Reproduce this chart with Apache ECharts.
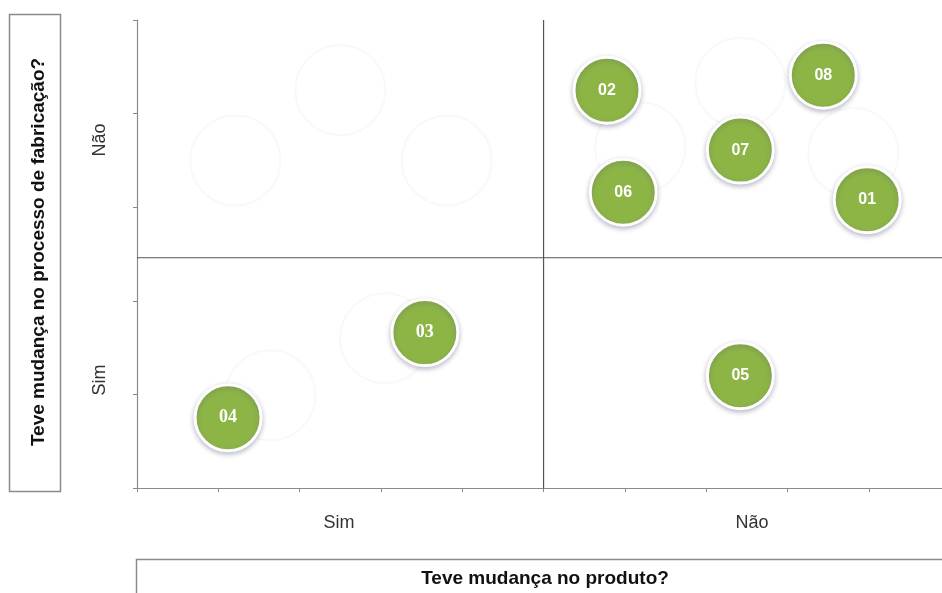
<!DOCTYPE html>
<html>
<head>
<meta charset="utf-8">
<script src="https://cdn.jsdelivr.net/npm/echarts@6/dist/echarts.min.js"></script>
<style>
  html, body { margin: 0; padding: 0; background: #fff; }
  #chart { width: 942px; height: 593px; }
</style>
</head>
<body>
<div id="chart"></div>
<script>
// ---- data ----
const itemNames = ["01", "02", "03", "04", "05", "06", "07", "08"];
const productX = [8.98, 5.78, 3.54, 1.12, 7.42, 5.98, 7.42, 8.44];
const processY = [3.08, 4.25, 1.66, 0.75, 1.20, 3.16, 3.61, 4.41];

// faint leftover outline circles in the background
const ghostX = [1.21, 2.50, 3.81, 7.42, 6.19, 8.81, 1.64, 3.05];
const ghostY = [3.50, 4.25, 3.50, 4.33, 3.64, 3.58, 0.99, 1.60];

// quadrant dividers
const dividerX = 5;
const dividerY = 2.46;

const xLabels = ["Sim", "Não"];
const yLabels = ["Não", "Sim"];
const xTitle = "Teve mudança no produto?";
const yTitle = "Teve mudança no processo de fabricação?";

// ---- chart ----
const chart = echarts.init(document.getElementById("chart"));
const FONT = "Arial, 'Liberation Sans', sans-serif";
const GREEN = "#8db546";

chart.setOption({
  backgroundColor: "#fff",
  animation: false,
  grid: { left: 137, right: 0, top: 20, bottom: 105 },
  xAxis: {
    type: "value",
    min: 0,
    max: 9.9,
    interval: 1,
    axisLine: { show: true, lineStyle: { color: "#8a8a8a", width: 1.2 } },
    axisTick: { show: true, length: 4, lineStyle: { color: "#8a8a8a" } },
    axisLabel: { show: false },
    splitLine: { show: false },
  },
  yAxis: {
    type: "value",
    min: 0,
    max: 5,
    interval: 1,
    axisLine: { show: true, lineStyle: { color: "#8a8a8a", width: 1.2 } },
    axisTick: { show: true, length: 4, lineStyle: { color: "#8a8a8a" } },
    axisLabel: { show: false },
    splitLine: { show: false },
  },
  series: [
    {
      type: "scatter",
      silent: true,
      symbolSize: 90,
      itemStyle: { color: "rgba(255,255,255,0)", borderColor: "#f9f9f9", borderWidth: 2, opacity: 1 },
      data: ghostX.map((x, i) => [x, ghostY[i]]),
      z: 1,
    },
    {
      type: "line",
      symbol: "none",
      lineStyle: { color: "#555", width: 1.2 },
      data: [[dividerX, -0.04], [dividerX, 5]],
      z: 2,
    },
    {
      type: "line",
      symbol: "none",
      lineStyle: { color: "#555", width: 1.2 },
      data: [[0, dividerY], [9.9, dividerY]],
      z: 2,
    },
    {
      type: "scatter",
      symbolSize: 66,
      itemStyle: {
        color: GREEN,
        opacity: 1,
        borderColor: "#fff",
        borderWidth: 3,
        shadowBlur: 5,
        shadowOffsetY: 2,
        shadowColor: "rgba(80,80,120,0.35)",
      },
      label: {
        show: true,
        position: "inside",
        formatter: (p) => p.name,
        color: "#fff",
        fontSize: 16,
        fontWeight: "bold",
        fontFamily: FONT,
      },
      data: itemNames.map((n, i) => ({
        name: n,
        value: [productX[i], processY[i]],
        label: (n === "03" || n === "04")
          ? { fontFamily: "'Liberation Serif', 'DejaVu Serif', serif", fontSize: 18 }
          : undefined,
      })),
      z: 5,
    },
  ],
  graphic: [
    // axis category labels
    { type: "text", x: 339, y: 523, style: { text: xLabels[0], font: "18px " + FONT, fill: "#333", align: "center", verticalAlign: "middle" } },
    { type: "text", x: 752, y: 523, style: { text: xLabels[1], font: "18px " + FONT, fill: "#333", align: "center", verticalAlign: "middle" } },
    { type: "text", x: 100, y: 140, rotation: Math.PI / 2, style: { text: yLabels[0], font: "18px " + FONT, fill: "#333", align: "center", verticalAlign: "middle" } },
    { type: "text", x: 100, y: 380, rotation: Math.PI / 2, style: { text: yLabels[1], font: "18px " + FONT, fill: "#333", align: "center", verticalAlign: "middle" } },
    // title boxes
    { type: "rect", shape: { x: 9.5, y: 14.5, width: 51, height: 477 }, style: { fill: "none", stroke: "#8a8a8a", lineWidth: 1.5 } },
    { type: "text", x: 39, y: 252, rotation: Math.PI / 2, style: { text: yTitle, font: "bold 19px " + FONT, fill: "#111", align: "center", verticalAlign: "middle" } },
    { type: "rect", shape: { x: 136.5, y: 559.5, width: 820, height: 60 }, style: { fill: "none", stroke: "#8a8a8a", lineWidth: 1.5 } },
    { type: "text", x: 545, y: 579, style: { text: xTitle, font: "bold 19px " + FONT, fill: "#111", align: "center", verticalAlign: "middle" } },
  ],
});
</script>
</body>
</html>
